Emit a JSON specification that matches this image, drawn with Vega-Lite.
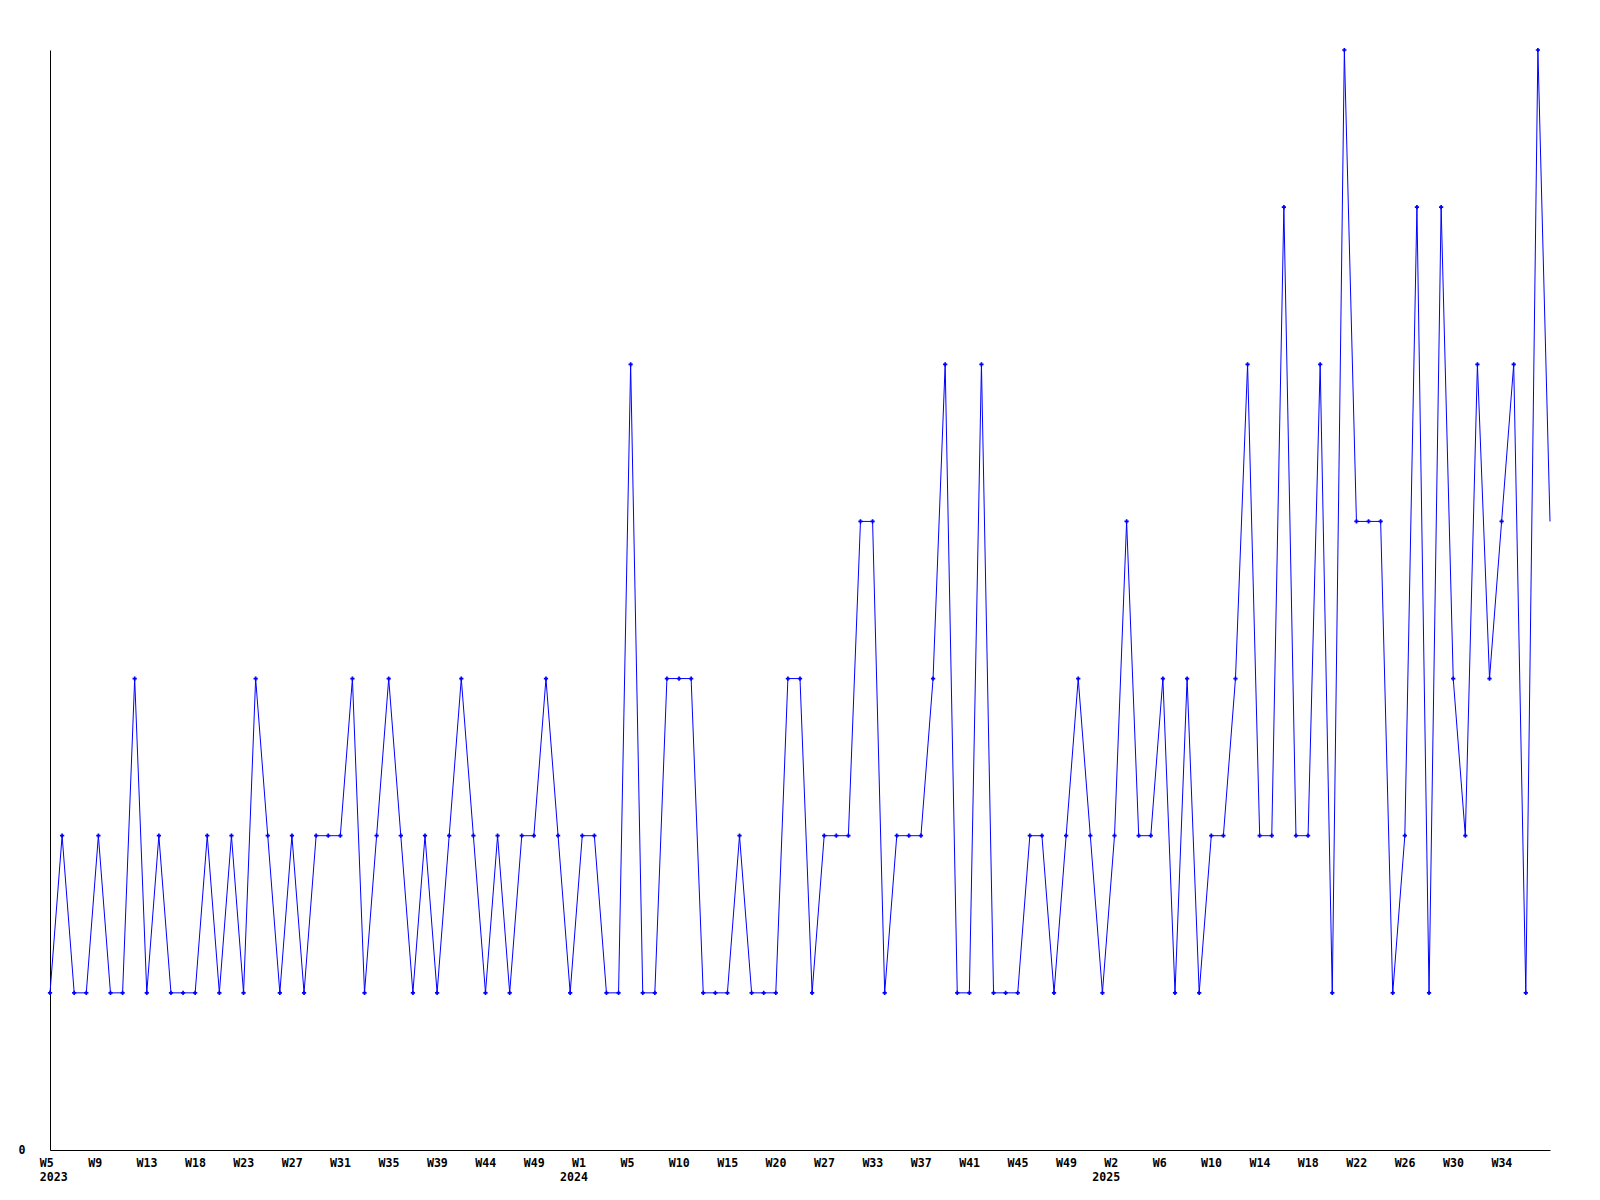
{
  "$schema": "https://vega.github.io/schema/vega-lite/v6.json",
  "width": 1500,
  "height": 1100,
  "autosize": "none",
  "padding": {"left": 50, "top": 50, "right": 50, "bottom": 50},
  "background": "white",
  "config": {"view": {"stroke": null}},
  "data": {
    "values": [
      {"n":0,"count":1},{"n":1,"count":2},{"n":2,"count":1},{"n":3,"count":1},{"n":4,"count":2},{"n":5,"count":1},{"n":6,"count":1},{"n":7,"count":3},{"n":8,"count":1},{"n":9,"count":2},
      {"n":10,"count":1},{"n":11,"count":1},{"n":12,"count":1},{"n":13,"count":2},{"n":14,"count":1},{"n":15,"count":2},{"n":16,"count":1},{"n":17,"count":3},{"n":18,"count":2},{"n":19,"count":1},
      {"n":20,"count":2},{"n":21,"count":1},{"n":22,"count":2},{"n":23,"count":2},{"n":24,"count":2},{"n":25,"count":3},{"n":26,"count":1},{"n":27,"count":2},{"n":28,"count":3},{"n":29,"count":2},
      {"n":30,"count":1},{"n":31,"count":2},{"n":32,"count":1},{"n":33,"count":2},{"n":34,"count":3},{"n":35,"count":2},{"n":36,"count":1},{"n":37,"count":2},{"n":38,"count":1},{"n":39,"count":2},
      {"n":40,"count":2},{"n":41,"count":3},{"n":42,"count":2},{"n":43,"count":1},{"n":44,"count":2},{"n":45,"count":2},{"n":46,"count":1},{"n":47,"count":1},{"n":48,"count":5},{"n":49,"count":1},
      {"n":50,"count":1},{"n":51,"count":3},{"n":52,"count":3},{"n":53,"count":3},{"n":54,"count":1},{"n":55,"count":1},{"n":56,"count":1},{"n":57,"count":2},{"n":58,"count":1},{"n":59,"count":1},
      {"n":60,"count":1},{"n":61,"count":3},{"n":62,"count":3},{"n":63,"count":1},{"n":64,"count":2},{"n":65,"count":2},{"n":66,"count":2},{"n":67,"count":4},{"n":68,"count":4},{"n":69,"count":1},
      {"n":70,"count":2},{"n":71,"count":2},{"n":72,"count":2},{"n":73,"count":3},{"n":74,"count":5},{"n":75,"count":1},{"n":76,"count":1},{"n":77,"count":5},{"n":78,"count":1},{"n":79,"count":1},
      {"n":80,"count":1},{"n":81,"count":2},{"n":82,"count":2},{"n":83,"count":1},{"n":84,"count":2},{"n":85,"count":3},{"n":86,"count":2},{"n":87,"count":1},{"n":88,"count":2},{"n":89,"count":4},
      {"n":90,"count":2},{"n":91,"count":2},{"n":92,"count":3},{"n":93,"count":1},{"n":94,"count":3},{"n":95,"count":1},{"n":96,"count":2},{"n":97,"count":2},{"n":98,"count":3},{"n":99,"count":5},
      {"n":100,"count":2},{"n":101,"count":2},{"n":102,"count":6},{"n":103,"count":2},{"n":104,"count":2},{"n":105,"count":5},{"n":106,"count":1},{"n":107,"count":7},{"n":108,"count":4},{"n":109,"count":4},
      {"n":110,"count":4},{"n":111,"count":1},{"n":112,"count":2},{"n":113,"count":6},{"n":114,"count":1},{"n":115,"count":6},{"n":116,"count":3},{"n":117,"count":2},{"n":118,"count":5},{"n":119,"count":3},
      {"n":120,"count":4},{"n":121,"count":5},{"n":122,"count":1},{"n":123,"count":7},{"n":124,"count":4}
    ]
  },
  "encoding": {
    "y": {
      "field": "count",
      "type": "quantitative",
      "scale": {"domain": [0, 7], "nice": false, "zero": true},
      "axis": {
        "title": null,
        "grid": false,
        "ticks": false,
        "domainColor": "black",
        "domainWidth": 1,
        "values": [0],
        "labelFont": "DejaVu Sans Mono",
        "labelFontWeight": "bold",
        "labelFontSize": 11.6,
        "labelColor": "black",
        "labelPadding": 25,
        "labelBaseline": "middle"
      }
    }
  },
  "layer": [
    {
      "mark": {"type": "line", "color": "#0000FF", "strokeWidth": 1, "clip": false},
      "encoding": {
        "x": {
          "field": "n",
          "type": "quantitative",
          "scale": {"domain": [0, 124], "nice": false, "zero": false},
          "axis": {
            "title": null,
            "grid": false,
            "ticks": false,
            "orient": "bottom",
            "domainColor": "black",
            "domainWidth": 1,
            "values": [0, 4, 8, 12, 16, 20, 24, 28, 32, 36, 40, 44, 48, 52, 56, 60, 64, 68, 72, 76, 80, 84, 88, 92, 96, 100, 104, 108, 112, 116, 120],
            "labelExpr": "['W5','W9','W13','W18','W23','W27','W31','W35','W39','W44','W49','W1','W5','W10','W15','W20','W27','W33','W37','W41','W45','W49','W2','W6','W10','W14','W18','W22','W26','W30','W34'][round(datum.value / 4)]",
            "labelFont": "DejaVu Sans Mono",
            "labelFontWeight": "bold",
            "labelFontSize": 11.6,
            "labelColor": "black",
            "labelAlign": "left",
            "labelBaseline": "top",
            "labelOffset": -10.7,
            "labelPadding": 7,
            "labelOverlap": false,
            "labelFlush": false,
            "labelBound": false
          }
        }
      }
    },
    {
      "transform": [{"filter": "datum.n < 124"}],
      "mark": {"type": "point", "shape": "cross", "filled": true, "color": "#0000FF", "size": 18, "opacity": 1},
      "encoding": {
        "x": {
          "field": "n",
          "type": "quantitative",
          "scale": {"domain": [0, 124], "nice": false, "zero": false},
          "axis": {
            "title": null,
            "grid": false,
            "ticks": false,
            "domain": false,
            "orient": "bottom",
            "values": [0, 43, 87],
            "labelExpr": "datum.value == 0 ? '2023' : datum.value == 43 ? '2024' : '2025'",
            "labelFont": "DejaVu Sans Mono",
            "labelFontWeight": "bold",
            "labelFontSize": 11.6,
            "labelColor": "black",
            "labelAlign": "left",
            "labelBaseline": "top",
            "labelOffset": -10.7,
            "labelPadding": 21,
            "labelOverlap": false,
            "labelFlush": false,
            "labelBound": false
          }
        }
      }
    }
  ],
  "resolve": {"axis": {"x": "independent"}}
}
